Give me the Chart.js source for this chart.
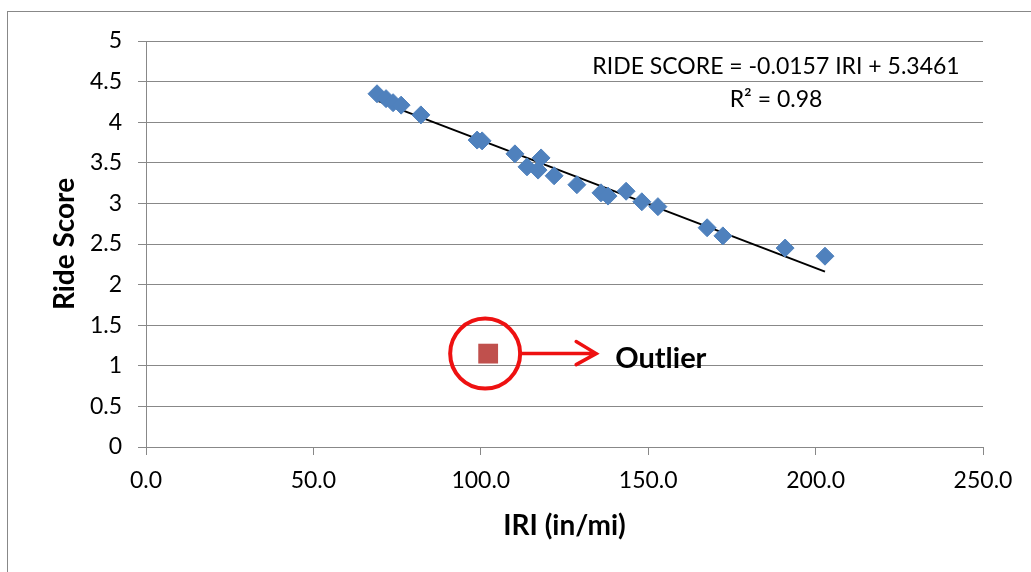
<!DOCTYPE html>
<html>
<head>
<meta charset="utf-8">
<script src="https://cdn.jsdelivr.net/npm/chart.js@4.4.1/dist/chart.umd.min.js"></script>
<style>
  html, body { margin: 0; padding: 0; background: #fff; }
  #wrap { width: 1031px; height: 572px; position: relative; }
</style>
</head>
<body>
<div id="wrap"><canvas id="rideChart"></canvas></div>
<script>
// data
const iriValues = [69.0, 71.7, 73.8, 76.2, 82.1, 98.9, 100.4, 110.2, 118.0, 113.8, 117.1,
  121.9, 128.7, 135.9, 138.0, 143.4, 148.1, 152.9, 167.6, 172.3, 190.9, 202.8];
const rideScores = [4.35, 4.29, 4.24, 4.21, 4.09, 3.78, 3.77, 3.61, 3.56, 3.45, 3.41,
  3.34, 3.23, 3.13, 3.09, 3.15, 3.02, 2.96, 2.70, 2.60, 2.45, 2.35];
const outlierIri = [102.2];
const outlierScore = [1.15];
const trendIri = [69.4, 202.8];
const trendScore = [4.26, 2.16];
const equationLines = ["RIDE SCORE = -0.0157 IRI + 5.3461", "R\u00b2 = 0.98"];
const outlierLabel = "Outlier";

const FONT = "Lato, 'Open Sans', sans-serif";
const GRID = "#888888";

const toPoints = (xs, ys) => xs.map((x, i) => ({ x: x, y: ys[i] }));

// frame, equation and outlier callout
const extras = {
  id: "extras",
  beforeDraw(chart) {
    const ctx = chart.ctx;
    ctx.save();
    ctx.strokeStyle = GRID;
    ctx.lineWidth = 1;
    ctx.strokeRect(7.5, 11.5, 1200, 800);
    ctx.restore();
  },
  afterDraw(chart) {
    const ctx = chart.ctx;
    const xs = chart.scales.x, ys = chart.scales.y;
    ctx.save();
    // equation
    ctx.fillStyle = "#000";
    ctx.font = "23px " + FONT;
    ctx.textAlign = "center";
    ctx.textBaseline = "middle";
    ctx.fillText(equationLines[0], 776, 67);
    ctx.fillText(equationLines[1], 776, 100);

    // circle round the outlier
    const px = xs.getPixelForValue(outlierIri[0]);
    const py = ys.getPixelForValue(outlierScore[0]);
    const cx = px - 3, cy = py;
    ctx.strokeStyle = "#ee1111";
    ctx.lineWidth = 4;
    ctx.beginPath();
    ctx.arc(cx, cy, 35, 0, Math.PI * 2);
    ctx.stroke();

    // arrow
    const x0 = cx + 35, x1 = cx + 111;
    ctx.lineWidth = 3.5;
    ctx.lineCap = "round";
    ctx.beginPath();
    ctx.moveTo(x0, cy);
    ctx.lineTo(x1, cy);
    ctx.moveTo(x1 - 20, cy - 12);
    ctx.lineTo(x1, cy);
    ctx.lineTo(x1 - 20, cy + 11);
    ctx.stroke();

    ctx.fillStyle = "#000";
    ctx.font = "bold 29px " + FONT;
    ctx.textAlign = "left";
    ctx.fillText(outlierLabel, cx + 130, cy + 5);
    ctx.restore();
  }
};

new Chart(document.getElementById("rideChart").getContext("2d"), {
  type: "scatter",
  data: {
    datasets: [
      {
        label: "Ride Score",
        data: toPoints(iriValues, rideScores),
        pointStyle: "rectRot",
        pointRadius: 9,
        pointHoverRadius: 9,
        backgroundColor: "#4F81BD",
        borderColor: "#4F81BD",
        borderWidth: 1
      },
      {
        label: "Outlier",
        data: toPoints(outlierIri, outlierScore),
        pointStyle: "rect",
        pointRadius: 14,
        backgroundColor: "#C0504D",
        borderColor: "#C0504D",
        borderWidth: 0
      },
      {
        label: "Trend",
        type: "line",
        data: toPoints(trendIri, trendScore),
        showLine: true,
        pointRadius: 0,
        borderColor: "#000",
        borderWidth: 2,
        fill: false
      }
    ]
  },
  options: {
    responsive: true,
    maintainAspectRatio: false,
    animation: false,
    layout: { padding: { left: 0, top: 41, right: 48, bottom: 0 } },
    plugins: {
      legend: { display: false },
      tooltip: { enabled: false }
    },
    scales: {
      x: {
        type: "linear",
        min: 0,
        max: 250,
        afterFit: (s) => { s.height = 125; },
        ticks: {
          stepSize: 50,
          padding: 12,
          color: "#000",
          font: { family: FONT, size: 23 },
          callback: (v) => v.toFixed(1)
        },
        grid: { drawOnChartArea: false, drawTicks: true, tickLength: 8, color: GRID },
        border: { color: GRID, width: 1 },
        title: {
          display: true,
          text: "IRI (in/mi)",
          color: "#000",
          font: { family: FONT, size: 28, weight: "bold" },
          padding: { top: 0, bottom: 29 }
        }
      },
      y: {
        min: 0,
        max: 5,
        afterFit: (s) => { s.width = 146; },
        ticks: {
          stepSize: 0.5,
          padding: 16,
          color: "#000",
          font: { family: FONT, size: 23 },
          callback: (v) => String(v)
        },
        grid: { drawTicks: true, tickLength: 8, color: GRID },
        border: { color: GRID, width: 1 },
        title: {
          display: true,
          text: "Ride Score",
          color: "#000",
          font: { family: FONT, size: 28, weight: "bold" },
          padding: { top: 48, bottom: 0 }
        }
      }
    }
  },
  plugins: [extras]
});
</script>
</body>
</html>
